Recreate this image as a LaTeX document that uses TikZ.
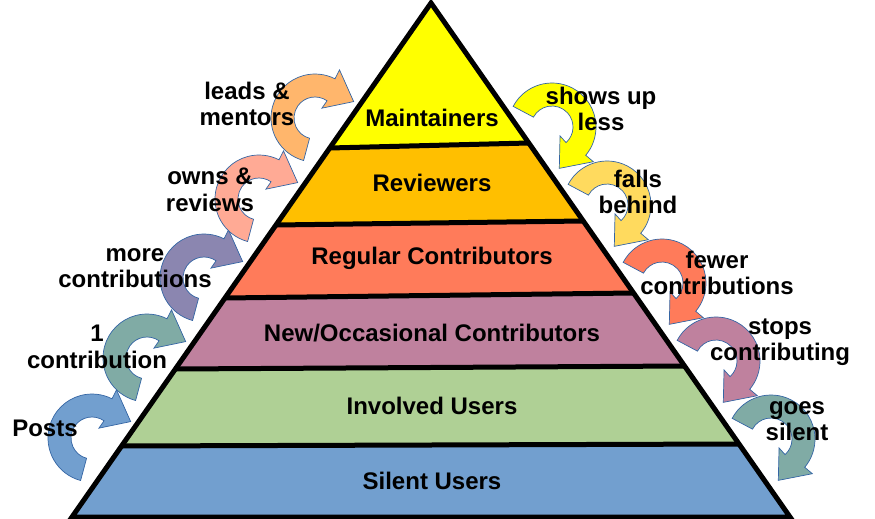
\documentclass[tikz,border=0pt]{standalone}
\usepackage{fontspec}
\setmainfont{Liberation Sans}
\definecolor{cMaint}{HTML}{FFFF00}
\definecolor{cRev}{HTML}{FFBF00}
\definecolor{cReg}{HTML}{FF7B5A}
\definecolor{cNew}{HTML}{BF819E}
\definecolor{cInv}{HTML}{AFD095}
\definecolor{cSil}{HTML}{729FCF}
\definecolor{aTeal}{HTML}{80ABA5}
\definecolor{aPurp}{HTML}{8B86B0}
\definecolor{aSalm}{HTML}{FFAA95}
\definecolor{aOrng}{HTML}{FFB66C}
\definecolor{aGold}{HTML}{FFDA5E}
\definecolor{aLine}{HTML}{3465A4}
\tikzset{
  pics/carrow/.style={code={
    \begin{scope}[yscale=-1,rotate=#1]
      \path[pic actions] (255:44) arc[start angle=255,end angle=63,radius=44]
        -- (63:54) -- (23:42) -- (55:12) -- (55:21)
        arc[start angle=55,end angle=255,radius=21] -- cycle;
    \end{scope}}},
  arr/.style={draw=aLine,line width=0.7pt,fill=#1},
  lbl/.style={font=\bfseries\fontsize{24}{26.5}\selectfont,align=center,inner sep=0pt,text=black},
  band/.style={fill=#1,draw=none},
  edge/.style={draw=black,line width=5pt,line join=miter},
}
\begin{document}
\begin{tikzpicture}[x=1pt,y=-1pt]
\useasboundingbox (0,0) rectangle (875,519);
% corner coordinates
\coordinate (apex) at (431,3);
\coordinate (l1) at (329.7,148); \coordinate (r1) at (528.8,143);
\coordinate (l2) at (275.95,225); \coordinate (r2) at (583.26,221);
\coordinate (l3) at (224.96,298); \coordinate (r3) at (633.55,293);
\coordinate (l4) at (175.37,369); \coordinate (r4) at (684.53,366);
\coordinate (l5) at (121.59,446); \coordinate (r5) at (739.01,444);
\coordinate (l6) at (72,517); \coordinate (r6) at (790,517);
% bands
\path[band=cMaint] (apex) -- (r1) -- (l1) -- cycle;
\path[band=cRev] (l1) -- (r1) -- (r2) -- (l2) -- cycle;
\path[band=cReg] (l2) -- (r2) -- (r3) -- (l3) -- cycle;
\path[band=cNew] (l3) -- (r3) -- (r4) -- (l4) -- cycle;
\path[band=cInv] (l4) -- (r4) -- (r5) -- (l5) -- cycle;
\path[band=cSil] (l5) -- (r5) -- (r6) -- (l6) -- cycle;
\draw[edge] (l1) -- (r1);
\draw[edge] (l2) -- (r2);
\draw[edge] (l3) -- (r3);
\draw[edge] (l4) -- (r4);
\draw[edge] (l5) -- (r5);
\draw[edge] (apex) -- (r6) -- (l6) -- cycle;
% band labels
\node[lbl] (tMaint) at (432,118) {Maintainers};
\node[lbl] (tRev) at (432,183) {Reviewers};
\node[lbl] (tReg) at (432,258) {Regular Contributors};
\node[lbl] (tNew) at (432,333) {New/Occasional Contributors};
\node[lbl] (tInv) at (432,406) {Involved Users};
\node[lbl] (tSil) at (432,481) {Silent Users};
% left arrows
\pic[arr=cSil] (aL1) at (92,438) {carrow=0};
\pic[arr=aTeal] (aL2) at (147,358) {carrow=0};
\pic[arr=aPurp] (aL3) at (204,278) {carrow=0};
\pic[arr=aSalm] (aL4) at (259,199) {carrow=0};
\pic[arr=aOrng] (aL5) at (315,118) {carrow=0};
% right arrows
\pic[arr=cMaint] (aR1) at (552,127) {carrow=103};
\pic[arr=aGold] (aR2) at (607,205) {carrow=103};
\pic[arr=cReg] (aR3) at (662,283) {carrow=103};
\pic[arr=cNew] (aR4) at (716,361) {carrow=103};
\pic[arr=aTeal] (aR5) at (771,439) {carrow=103};
% side labels
\node[lbl] (sL1) at (45,428) {Posts};
\node[lbl] (sL2) at (97,347) {1\\contribution};
\node[lbl] (sL3) at (135,268) {more\\contributions};
\node[lbl] (sL4) at (210,190) {owns \&\\reviews};
\node[lbl] (sL5) at (247,104) {leads \&\\mentors};
\node[lbl] (sR1) at (601,109) {shows up\\less};
\node[lbl] (sR2) at (638,192) {falls\\behind};
\node[lbl] (sR3) at (717,273) {fewer\\contributions};
\node[lbl] (sR4) at (780,342) {stops\\contributing};
\node[lbl] (sR5) at (797,421) {goes\\silent};
\end{tikzpicture}
\end{document}
